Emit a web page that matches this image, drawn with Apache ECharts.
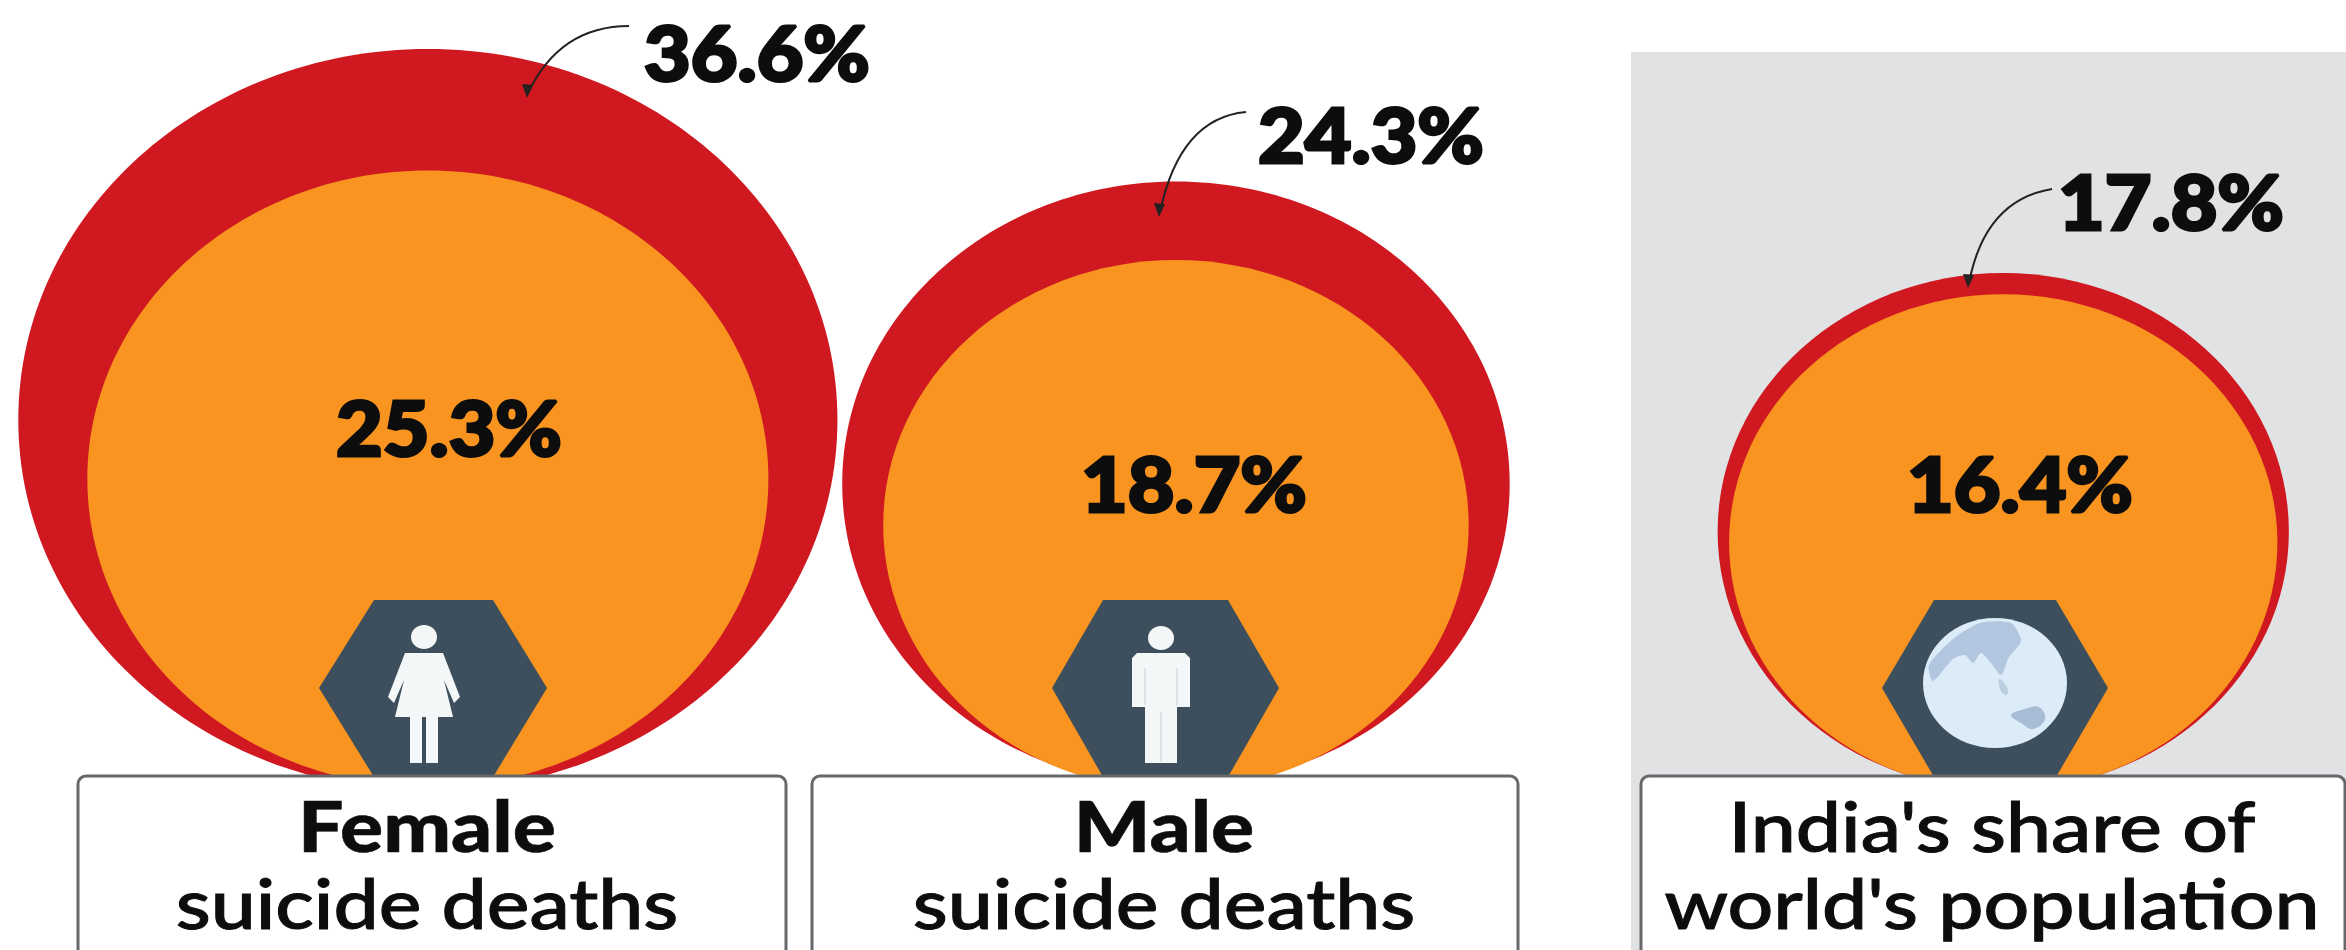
<!DOCTYPE html>
<html>
<head>
<meta charset="utf-8">
<style>html,body{margin:0;padding:0;background:#fff}#chart{width:2346px;height:950px}</style>
<script src="https://cdn.jsdelivr.net/npm/echarts@6/dist/echarts.min.js"></script>
</head>
<body>
<div id="chart"></div>
<script>
// Shares of the world total, in percent
const groups = ['Female suicide deaths', 'Male suicide deaths', "India's share of world's population"];
const shareIn1990 = [25.3, 18.7, 16.4];
const shareIn2016 = [36.6, 24.3, 17.8];
const captionTop = ['Female', 'Male', "India's share of"];
const captionBottom = ['suicide deaths', 'suicide deaths', "world's population"];

// Bubble radius is the square root of the share, so area tracks the value
const radiusOf = v => Math.sqrt(v);

const W = 2346, H = 950, BOX_TOP = 775, AXIS_FLOOR = 800;
const UNIT_X = 67.7, UNIT_Y = 61.3;           // pixels per radius unit on each axis
const centreX = [6.32, 17.37, 29.59];         // bubble centres, axis units
// Height of each bubble's lowest point above the axis floor, axis units (hidden behind the caption boxes)
const lift2016 = [0.15, 0.23, 0.16];
const lift1990 = [0.21, 0.16, 0.15];

const innerLabelPos = [[449, 431], [1194, 487], [2020, 487]];
const outerLabelPos = [[757, 56], [1371, 138], [2171, 205]];
const captionX = [427, 1164, 1992];
const boxes = [[78, 786], [812, 1518], [1641, 2345]];
const hexes = [[433, 374, 493, 319, 547], [1165, 1103, 1228, 1052, 1279], [1995, 1934, 2056, 1882, 2108]];
const leaders = [
  [629, 26, 560, 26, 528, 93],
  [1246, 112, 1180, 118, 1160, 212],
  [2052, 189, 1985, 200, 1969, 283]
];

const RED = '#cf1820', ORANGE = '#f8941f', SLATE = '#3d4f5c', INK = '#0d0d0d', FIGURE = '#f4f7f8';
const NUM_FONT = '900 76px Lato';

function bubbleSeries(values, lifts, colour, labelPos, name, z) {
  return {
    type: 'custom',
    name,
    z,
    coordinateSystem: 'cartesian2d',
    data: values.map((v, i) => [centreX[i], radiusOf(v) + lifts[i], v, i, radiusOf(v)]),
    encode: { x: 0, y: 1 },
    silent: true,
    renderItem(params, api) {
      const r = api.value(4), c = api.coord([api.value(0), api.value(1)]), s = api.size([r, r]);
      const i = api.value(3);
      return {
        type: 'group',
        children: [
          { type: 'ellipse', shape: { cx: c[0], cy: c[1], rx: s[0], ry: s[1] }, style: { fill: colour } },
          { type: 'text', z2: 50, x: labelPos[i][0], y: labelPos[i][1], scaleX: 1.06,
            style: { text: api.value(2).toFixed(1) + '%', x: 0, y: 0,
                     font: NUM_FONT, fill: INK, stroke: INK, lineWidth: 3, align: 'center', verticalAlign: 'middle' } }
        ]
      };
    }
  };
}

// Pictograms on the hexagon badges
function woman(x) {
  const pt = (dx, y) => [x + dx, y];
  return [
    { type: 'ellipse', z: 22, shape: { cx: x, cy: 637, rx: 13, ry: 12 }, style: { fill: FIGURE } },
    { type: 'polygon', z: 22, shape: { points: [pt(-19, 653), pt(19, 653), pt(36, 697), pt(30, 703), pt(20, 680), pt(29, 717), pt(14, 717), pt(14, 763), pt(2, 763), pt(2, 717), pt(-2, 717), pt(-2, 763), pt(-14, 763), pt(-14, 717), pt(-29, 717), pt(-20, 680), pt(-30, 703), pt(-36, 697)] }, style: { fill: FIGURE } }
  ];
}
function man(x) {
  const pt = (dx, y) => [x + dx, y];
  const seam = (dx, y1, y2) => ({ type: 'line', z: 23, shape: { x1: x + dx, y1, x2: x + dx, y2 }, style: { stroke: '#dde2e5', lineWidth: 2 } });
  return [
    { type: 'ellipse', z: 22, shape: { cx: x, cy: 638, rx: 13, ry: 12 }, style: { fill: FIGURE } },
    { type: 'polygon', z: 22, shape: { points: [pt(-24, 653), pt(24, 653), pt(29, 658), pt(29, 707), pt(16, 707), pt(16, 763), pt(-16, 763), pt(-16, 707), pt(-29, 707), pt(-29, 658)] }, style: { fill: FIGURE } },
    seam(0, 712, 762), seam(-16, 668, 705), seam(16, 668, 705)
  ];
}
function globe(x, y) {
  return [
    { type: 'ellipse', z: 22, shape: { cx: x, cy: y, rx: 72, ry: 65 }, style: { fill: '#dcebf8' } },
    { type: 'polygon', z: 23, shape: { smooth: 0.25, points: [[x - 42, y - 44], [x - 15, y - 60], [x + 16, y - 60], [x + 26, y - 42], [x + 14, y - 26], [x + 6, y - 8], [x - 4, y - 20], [x - 14, y - 30], [x - 22, y - 20], [x - 30, y - 28], [x - 42, y - 24], [x - 62, y - 2], [x - 66, y - 18]] }, style: { fill: '#b3c6df' } },
    { type: 'polygon', z: 23, shape: { smooth: 0.4, points: [[x + 16, y + 32], [x + 30, y + 26], [x + 44, y + 24], [x + 50, y + 36], [x + 38, y + 46], [x + 26, y + 40]] }, style: { fill: '#a8bcd6' } },
    { type: 'polygon', z: 23, shape: { smooth: 0.4, points: [[x + 4, y - 4], [x + 12, y + 4], [x + 12, y + 12], [x + 6, y + 8]] }, style: { fill: '#bccde1' } }
  ];
}

const decor = [
  { type: 'rect', z: 0, shape: { x: 1631, y: 52, width: W - 1631, height: H - 52 }, style: { fill: '#e1e2e4' } }
];
hexes.forEach(h => {
  decor.push({ type: 'polygon', z: 20,
    shape: { points: [[h[1], 600], [h[2], 600], [h[4], 688], [h[2], BOX_TOP + 2], [h[1], BOX_TOP + 2], [h[3], 688]] },
    style: { fill: SLATE } });
});
decor.push(...woman(424), ...man(1161), ...globe(1995, 683));
boxes.forEach((b, i) => {
  decor.push({ type: 'rect', z: 30,
    shape: { x: b[0], y: BOX_TOP + 1, width: b[1] - b[0], height: H - BOX_TOP + 6, r: 8 },
    style: { fill: '#fff', stroke: '#66686b', lineWidth: 3 } });
  decor.push({ type: 'text', z: 31, x: captionX[i], y: 829, scaleX: 1.15,
    style: { text: captionTop[i], x: 0, y: 0, align: 'center', verticalAlign: 'middle',
             font: (i === 2 ? '500' : '900') + ' 70px Lato', fill: INK, stroke: INK, lineWidth: i === 2 ? 1 : 0.5 } });
  decor.push({ type: 'text', z: 31, x: captionX[i], y: 906, scaleX: 1.15,
    style: { text: captionBottom[i], x: 0, y: 0, align: 'center', verticalAlign: 'middle',
             font: '500 70px Lato', fill: INK, stroke: INK, lineWidth: 1 } });
});
leaders.forEach(l => {
  decor.push({ type: 'bezierCurve', z: 40,
    shape: { x1: l[0], y1: l[1], cpx1: l[2], cpy1: l[3], x2: l[4], y2: l[5] },
    style: { stroke: '#222', lineWidth: 2, fill: 'none' } });
  decor.push({ type: 'polygon', z: 40,
    shape: { points: [[l[4] - 1, l[5] + 5], [l[4] - 6, l[5] - 9], [l[4] + 5, l[5] - 8]] },
    style: { fill: '#222' } });
});

const chart = echarts.init(document.getElementById('chart'), null, { renderer: 'canvas' });
chart.setOption({
  animation: false,
  backgroundColor: '#ffffff',
  tooltip: { show: false },
  grid: { left: 0, right: 0, top: 0, bottom: H - AXIS_FLOOR },
  xAxis: { type: 'value', min: 0, max: W / UNIT_X, show: false },
  yAxis: { type: 'value', min: 0, max: AXIS_FLOOR / UNIT_Y, show: false },
  graphic: { elements: decor },
  series: [
    bubbleSeries(shareIn2016, lift2016, RED, outerLabelPos, 'Share in 2016', 2),
    bubbleSeries(shareIn1990, lift1990, ORANGE, innerLabelPos, 'Share in 1990', 3)
  ]
});
</script>
</body>
</html>
